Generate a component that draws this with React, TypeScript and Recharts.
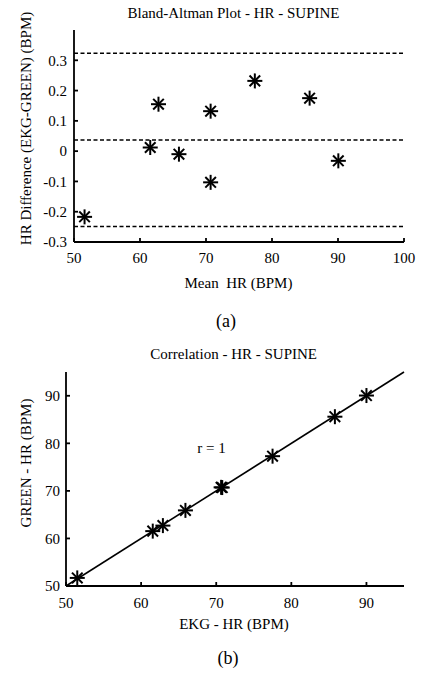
import React from 'react';
import { ScatterChart, Scatter, XAxis, YAxis, ReferenceLine } from 'recharts';

// Bland-Altman: mean HR vs difference (EKG - GREEN)
const meanHR = [51.6, 61.55, 62.8, 65.9, 70.7, 70.7, 77.4, 85.7, 90.05];
const diffHR = [-0.217, 0.012, 0.155, -0.01, 0.132, -0.103, 0.232, 0.175, -0.032];
const meanDiff = 0.037;
const upperLimit = 0.323;
const lowerLimit = -0.249;

// Correlation: EKG HR vs GREEN HR
const ekgHR = [51.5, 61.55, 62.9, 65.9, 70.8, 70.65, 77.5, 85.8, 90.0];
const greenHR = [51.7, 61.54, 62.7, 65.9, 70.7, 70.75, 77.3, 85.6, 90.05];
const fitLine = [{ x: 50, y: 50 }, { x: 95, y: 95 }];

const baTicksX = [50, 60, 70, 80, 90, 100];
const baTicksY = [-0.3, -0.2, -0.1, 0, 0.1, 0.2, 0.3];
const corTicks = [50, 60, 70, 80, 90];

const baData = meanHR.map((x, i) => ({ x, y: diffHR[i] }));
const corData = ekgHR.map((x, i) => ({ x, y: greenHR[i] }));

const FONT = '"Liberation Serif", "Times New Roman", serif';
const tickStyle = { fontFamily: FONT, fontSize: 15, fill: '#000', style: { fontFamily: FONT } };
const axisLine = { stroke: '#000', strokeWidth: 1.8 };
const tickLine = { stroke: '#000', strokeWidth: 1.8 };

const Star = (props: any) => {
  const { cx, cy } = props;
  const r = 7.5;
  const d = 5.3;
  return (
    <g stroke="#000" strokeWidth={2}>
      <line x1={cx - r} y1={cy} x2={cx + r} y2={cy} />
      <line x1={cx} y1={cy - r} x2={cx} y2={cy + r} />
      <line x1={cx - d} y1={cy - d} x2={cx + d} y2={cy + d} />
      <line x1={cx - d} y1={cy + d} x2={cx + d} y2={cy - d} />
    </g>
  );
};

const App = () => {
  return (
    <div style={{ position: 'absolute', left: 0, top: 0, width: 421, height: 677, background: '#fff' }}>
      <div style={{ position: 'absolute', left: 0, top: 0 }}>
        <ScatterChart width={421} height={300} margin={{ top: 30, right: 17, left: 0, bottom: 0 }}>
          <XAxis
            type="number"
            dataKey="x"
            domain={[50, 100]}
            ticks={baTicksX}
            height={58}
            tickSize={-4}
            tickMargin={14}
            tick={tickStyle}
            axisLine={axisLine}
            tickLine={tickLine}
            allowDataOverflow
          />
          <YAxis
            type="number"
            dataKey="y"
            domain={[-0.3, 0.4]}
            ticks={baTicksY}
            width={74}
            tickSize={-4}
            tickMargin={11}
            tick={tickStyle}
            axisLine={axisLine}
            tickLine={tickLine}
            allowDataOverflow
          />
          <ReferenceLine y={upperLimit} stroke="#000" strokeWidth={1.5} strokeDasharray="4 2.5" />
          <ReferenceLine y={meanDiff} stroke="#000" strokeWidth={1.5} strokeDasharray="4 2.5" />
          <ReferenceLine y={lowerLimit} stroke="#000" strokeWidth={1.5} strokeDasharray="4 2.5" />
          <Scatter data={baData} shape={<Star />} isAnimationActive={false} />
        </ScatterChart>
      </div>
      <div style={{ position: 'absolute', left: 0, top: 340 }}>
        <ScatterChart width={421} height={300} margin={{ top: 32, right: 17, left: 0, bottom: 0 }}>
          <XAxis
            type="number"
            dataKey="x"
            domain={[50, 95]}
            ticks={corTicks}
            height={54}
            tickSize={-4}
            tickMargin={15}
            tick={tickStyle}
            axisLine={axisLine}
            tickLine={tickLine}
            allowDataOverflow
          />
          <YAxis
            type="number"
            dataKey="y"
            domain={[50, 95]}
            ticks={corTicks}
            width={66}
            tickSize={-4}
            tickMargin={10}
            tick={tickStyle}
            axisLine={axisLine}
            tickLine={tickLine}
            allowDataOverflow
          />
          <ReferenceLine segment={fitLine} stroke="#000" strokeWidth={1.6} />
          <Scatter data={corData} shape={<Star />} isAnimationActive={false} />
        </ScatterChart>
      </div>
      <svg
        width={421}
        height={677}
        style={{ position: 'absolute', left: 0, top: 0, pointerEvents: 'none', fontFamily: FONT }}
        fill="#000"
      >
        <text x={233.5} y={17.5} fontSize={15} textAnchor="middle">Bland-Altman Plot - HR - SUPINE</text>
        <text transform="translate(31,128.5) rotate(-90)" fontSize={15} textAnchor="middle">
          HR Difference (EKG-GREEN) (BPM)
        </text>
        <text x={238.5} y={288} fontSize={15} textAnchor="middle" style={{ whiteSpace: 'pre' }}>
          {'Mean  HR (BPM)'}
        </text>
        <text x={226} y={327} fontSize={18} textAnchor="middle">(a)</text>

        <text x={233.7} y={359} fontSize={15} textAnchor="middle">Correlation - HR - SUPINE</text>
        <text x={211.5} y={453} fontSize={15} textAnchor="middle">r = 1</text>
        <text transform="translate(31,463) rotate(-90)" fontSize={15} textAnchor="middle">
          GREEN - HR (BPM)
        </text>
        <text x={234} y={629} fontSize={15} textAnchor="middle">EKG - HR (BPM)</text>
        <text x={228} y={664} fontSize={18} textAnchor="middle">(b)</text>
      </svg>
    </div>
  );
};

export default App;
